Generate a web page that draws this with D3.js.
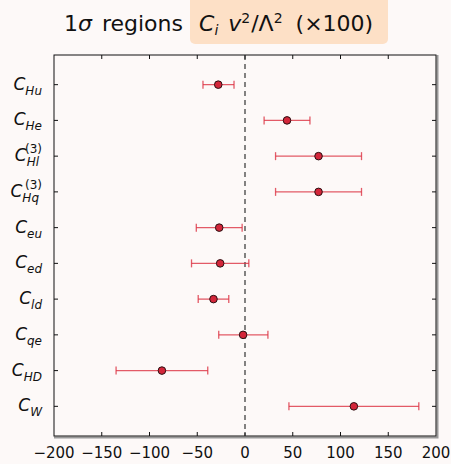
<!DOCTYPE html>
<html>
<head>
<meta charset="utf-8">
<script src="https://cdn.jsdelivr.net/npm/d3@7"></script>
<style>
  body { margin: 0; background: #fdf9f8; }
  svg { display: block; font-family: "DejaVu Sans", sans-serif; }
</style>
</head>
<body>
<script>
"use strict";

// coefficient names (subscript part) and superscripts
var names = ["Hu", "He", "Hl", "Hq", "eu", "ed", "ld", "qe", "HD", "W"];
var sups = ["", "", "(3)", "(3)", "", "", "", "", "", ""];
// best fit and 1 sigma interval, in units of 1/100
var centers = [-28, 44, 77, 77, -27, -26, -33, -2, -87, 114];
var lower = [-44, 20, 32, 32, -51, -56, -49, -27.5, -135, 46];
var upper = [-11.5, 68, 122, 122, -3, 4, -17, 24, -39, 182];
var xTicks = [-200, -150, -100, -50, 0, 50, 100, 150, 200];

var width = 451, height = 464;
var margin = {top: 55, right: 15, bottom: 28, left: 54};
var innerW = width - margin.left - margin.right,
    innerH = height - margin.top - margin.bottom;

var svg = d3.select("body").append("svg")
  .attr("width", width)
  .attr("height", height);

// title
var title = svg.append("g");
title.append("rect")
  .attr("x", 190).attr("y", -6)
  .attr("width", 198).attr("height", 50)
  .attr("rx", 5)
  .attr("fill", "#fde0c6");

var t1 = title.append("text")
  .attr("x", 64).attr("y", 31)
  .attr("font-size", 22)
  .attr("fill", "#111");
t1.append("tspan").text("1");
t1.append("tspan").attr("font-style", "italic").text("σ");
t1.append("tspan").attr("dx", 3).text(" regions");

var t2 = title.append("text")
  .attr("x", 199).attr("y", 31)
  .attr("font-size", 22)
  .attr("fill", "#111");
t2.append("tspan").attr("font-style", "italic").text("C");
t2.append("tspan").attr("font-style", "italic").attr("font-size", 14).attr("dy", 4).text("i");
t2.append("tspan").attr("font-style", "italic").attr("dx", 3).attr("dy", -4).text(" v");
t2.append("tspan").attr("font-size", 14).attr("dy", -8).text("2");
t2.append("tspan").attr("dx", 1).attr("dy", 8).text("/Λ");
t2.append("tspan").attr("font-size", 14).attr("dy", -8).text("2");
t2.append("tspan").attr("dx", 6).attr("dy", 8).text(" (×100)");

var g = svg.append("g")
  .attr("transform", "translate(" + margin.left + "," + margin.top + ")");

var x = d3.scaleLinear().domain([-200, 200]).range([0, innerW]);
var y = d3.scaleLinear().domain([-0.83, names.length - 1 + 0.83]).range([0, innerH]);

// shadow on right and bottom spines
g.append("path")
  .attr("d", "M" + (innerW + 1.5) + ",0V" + (innerH + 1.5) + "H0")
  .attr("fill", "none")
  .attr("stroke", "#999")
  .attr("stroke-width", 2);

g.append("rect")
  .attr("width", innerW).attr("height", innerH)
  .attr("fill", "none")
  .attr("stroke", "#111")
  .attr("stroke-width", 1);

// ticks, inward on all sides
var ticks = g.append("g").attr("stroke", "#111").attr("stroke-width", 1);
xTicks.slice(1, -1).forEach(function(v) {
  ticks.append("line").attr("x1", x(v)).attr("x2", x(v)).attr("y1", innerH).attr("y2", innerH - 4);
  ticks.append("line").attr("x1", x(v)).attr("x2", x(v)).attr("y1", 0).attr("y2", 4);
});
names.forEach(function(n, i) {
  ticks.append("line").attr("x1", 0).attr("x2", 4).attr("y1", y(i)).attr("y2", y(i));
  ticks.append("line").attr("x1", innerW).attr("x2", innerW - 4).attr("y1", y(i)).attr("y2", y(i));
});

// x tick labels
g.selectAll(".xl").data(xTicks).enter().append("text")
  .attr("class", "xl")
  .attr("x", function(d) { return x(d); })
  .attr("y", innerH + 22)
  .attr("text-anchor", "middle")
  .attr("font-size", 15)
  .attr("fill", "#111")
  .text(function(d) { return d < 0 ? "\u2212" + (-d) : d; });

// y labels
names.forEach(function(n, i) {
  var lab = g.append("text")
    .attr("x", -12)
    .attr("y", y(i) + 5)
    .attr("text-anchor", "end")
    .attr("font-size", 17)
    .attr("font-style", "italic")
    .attr("fill", "#111");
  lab.append("tspan").text("C");
  lab.append("tspan").attr("font-size", 12).attr("dy", 5).text(n);
  if (sups[i]) {
    lab.append("tspan").attr("font-size", 12).attr("font-style", "normal")
      .attr("dx", -14).attr("dy", -13).text(sups[i]);
  }
});

// zero line
g.append("line")
  .attr("x1", x(0)).attr("x2", x(0))
  .attr("y1", 0).attr("y2", innerH)
  .attr("stroke", "#333")
  .attr("stroke-width", 1.2)
  .attr("stroke-dasharray", "5,4");

// error bars
var bars = g.selectAll(".bar").data(names).enter().append("g").attr("class", "bar")
  .attr("stroke", "#dc3242")
  .attr("stroke-opacity", 0.8)
  .attr("stroke-width", 1.3);
bars.append("line")
  .attr("x1", function(d, i) { return x(lower[i]); })
  .attr("x2", function(d, i) { return x(upper[i]); })
  .attr("y1", function(d, i) { return y(i); })
  .attr("y2", function(d, i) { return y(i); });
bars.append("line")
  .attr("x1", function(d, i) { return x(lower[i]); })
  .attr("x2", function(d, i) { return x(lower[i]); })
  .attr("y1", function(d, i) { return y(i) - 4; })
  .attr("y2", function(d, i) { return y(i) + 4; });
bars.append("line")
  .attr("x1", function(d, i) { return x(upper[i]); })
  .attr("x2", function(d, i) { return x(upper[i]); })
  .attr("y1", function(d, i) { return y(i) - 4; })
  .attr("y2", function(d, i) { return y(i) + 4; });

// best fit points
g.selectAll(".pt").data(centers).enter().append("circle")
  .attr("class", "pt")
  .attr("cx", function(d) { return x(d); })
  .attr("cy", function(d, i) { return y(i); })
  .attr("r", 3.8)
  .attr("fill", "#d3263a")
  .attr("stroke", "#2a1012")
  .attr("stroke-width", 1);
</script>
</body>
</html>
